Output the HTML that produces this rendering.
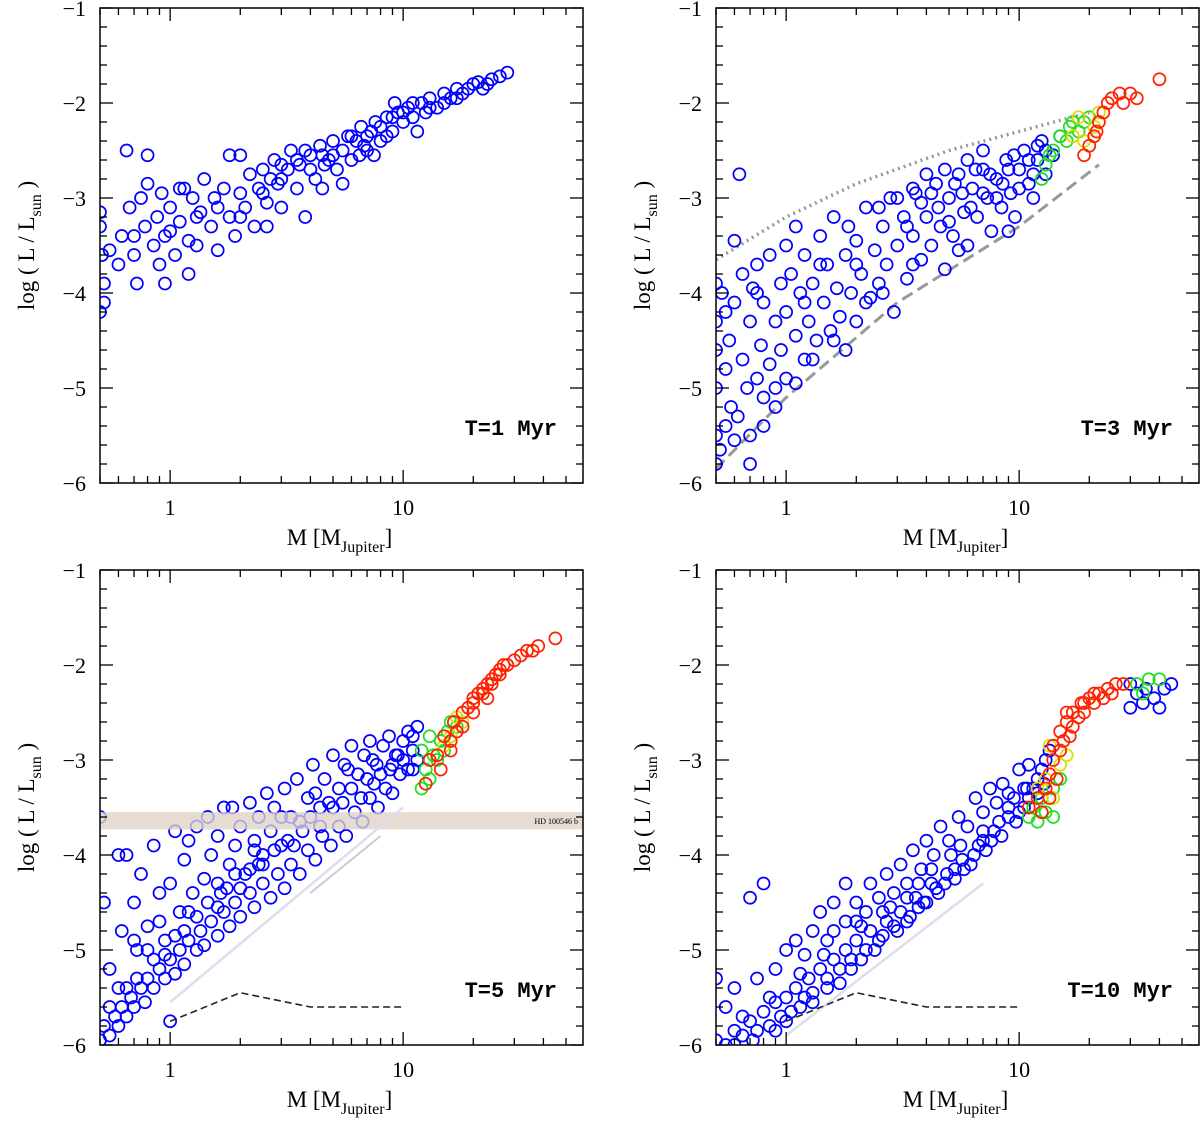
<!DOCTYPE html>
<html><head><meta charset="utf-8"><style>
body{margin:0;background:#fff;width:1200px;height:1120px;overflow:hidden}
svg text{font-family:"Liberation Serif",serif;fill:#000}
</style></head><body>
<svg id="chart" width="1200" height="1120" xmlns="http://www.w3.org/2000/svg"></svg>
<script>
// ---- data: [mass (MJup), log L/Lsun] ----
const p1Blue=[[0.5,-3.15],[0.5,-3.3],[0.51,-3.6],[0.52,-3.9],[0.5,-4.2],[0.52,-4.1],[0.55,-3.55],[0.6,-3.7],[0.62,-3.4],[0.65,-2.5],[0.67,-3.1],[0.7,-3.6],[0.72,-3.9],[0.75,-3.0],[0.78,-3.3],[0.8,-2.85],[0.8,-2.55],[0.85,-3.5],[0.88,-3.2],[0.9,-3.7],[0.92,-2.95],[0.95,-3.4],[1.0,-3.1],[1.05,-3.6],[1.1,-3.25],[1.15,-2.9],[1.2,-3.45],[1.25,-3.0],[1.3,-3.5],[1.35,-3.15],[1.4,-2.8],[1.5,-3.3],[1.55,-3.0],[1.6,-3.55],[1.7,-2.9],[1.8,-2.55],[1.8,-3.2],[1.9,-3.4],[2.0,-2.55],[2.0,-2.95],[2.1,-3.1],[2.2,-2.75],[2.3,-3.3],[2.4,-2.9],[2.5,-2.7],[2.6,-3.05],[2.8,-2.6],[2.9,-2.85],[3.0,-3.1],[3.2,-2.7],[3.3,-2.5],[3.5,-2.9],[3.6,-2.65],[3.8,-3.2],[4.0,-2.55],[4.2,-2.8],[4.4,-2.45],[4.6,-2.65],[5.0,-2.4],[5.2,-2.7],[5.5,-2.5],[5.8,-2.35],[6.0,-2.6],[6.3,-2.4],[6.6,-2.25],[7.0,-2.5],[7.3,-2.3],[7.6,-2.2],[8.0,-2.4],[8.5,-2.15],[9.0,-2.3],[9.5,-2.1],[10,-2.2],[10.5,-2.05],[11,-2.15],[12,-2.0],[12.5,-2.1],[13,-1.95],[14,-2.05],[15,-1.9],[16,-1.95],[17,-1.85],[18,-1.9],[20,-1.8],[22,-1.85],[24,-1.75],[26,-1.72],[28,-1.68],[5.5,-2.85],[1.2,-3.8],[0.95,-3.9],[2.6,-3.3],[4.8,-2.6],[6.8,-2.45],[9.2,-2.0],[3.0,-2.8],[4.5,-2.9],[7.5,-2.55],[11.5,-2.3],[1.1,-2.9],[0.7,-3.4],
[1.0,-3.35],[1.3,-3.2],[1.6,-3.1],[2.0,-3.2],[2.5,-2.95],[3.0,-2.65],[3.5,-2.6],[4.0,-2.7],[4.5,-2.55],[5,-2.55],[6,-2.35],[7,-2.35],[8,-2.25],[9,-2.15],[10,-2.1],[11,-2.0],[13,-2.05],[15,-2.0],[17,-1.95],[19,-1.85],[21,-1.78],[23,-1.8],[8.5,-2.35],[6.5,-2.55],[3.8,-2.5],[2.7,-2.8]];
const p2Blue=[[0.5,-5.8],[0.5,-5.5],[0.5,-5.0],[0.5,-4.6],[0.5,-4.3],[0.5,-3.9],[0.52,-5.65],[0.53,-4.0],[0.55,-5.4],[0.55,-4.8],[0.57,-4.5],[0.58,-5.2],[0.6,-3.45],[0.6,-4.1],[0.62,-5.3],[0.63,-2.75],[0.65,-4.7],[0.65,-3.8],[0.68,-5.0],[0.7,-4.3],[0.7,-5.8],[0.72,-3.95],[0.75,-4.9],[0.75,-3.7],[0.78,-4.55],[0.8,-5.1],[0.8,-4.1],[0.85,-3.6],[0.85,-4.75],[0.9,-4.3],[0.9,-5.0],[0.95,-3.9],[0.95,-4.6],[1.0,-3.5],[1.0,-4.2],[1.0,-4.9],[1.05,-3.8],[1.1,-4.45],[1.1,-3.3],[1.15,-4.0],[1.2,-4.7],[1.2,-3.6],[1.25,-4.3],[1.3,-3.9],[1.35,-4.5],[1.4,-3.4],[1.45,-4.1],[1.5,-3.7],[1.55,-4.4],[1.6,-3.2],[1.65,-3.95],[1.7,-4.25],[1.8,-3.6],[1.85,-3.3],[1.9,-4.0],[2.0,-3.45],[2.0,-4.3],[2.1,-3.8],[2.2,-3.1],[2.3,-4.05],[2.4,-3.55],[2.5,-3.9],[2.6,-3.3],[2.7,-3.7],[2.8,-3.0],[2.9,-4.2],[3.0,-3.5],[3.2,-3.2],[3.3,-3.85],[3.5,-3.4],[3.6,-2.95],[3.8,-3.65],[4.0,-3.2],[4.2,-3.5],[4.4,-2.85],[4.6,-3.3],[4.8,-3.75],[5.0,-3.0],[5.2,-3.4],[5.5,-2.75],[5.8,-3.15],[6.0,-3.5],[6.3,-2.9],[6.6,-3.2],[7.0,-2.7],[7.3,-3.0],[7.6,-3.35],[8.0,-2.8],[8.4,-3.1],[8.8,-2.6],[9.2,-2.95],[9.6,-3.2],[10,-2.7],[10.5,-2.5],[11,-2.85],[11.5,-3.0],[12,-2.6],[12.5,-2.4],[13,-2.75],[14,-2.55],[15,-2.35],[0.6,-5.55],[0.8,-5.4],[3.5,-2.9],[7,-2.5],[4,-2.75],[1.3,-4.7],[1.6,-4.5],[2.2,-4.1],[5.5,-3.55],[9,-3.35],[0.9,-5.2],[1.1,-4.95],
[3.0,-3.0],[3.3,-3.3],[3.8,-3.05],[4.2,-2.95],[4.5,-3.1],[5.0,-3.25],[5.3,-2.85],[5.7,-2.95],[6.2,-3.1],[6.5,-2.7],[7.0,-2.95],[7.5,-2.75],[8.0,-3.0],[8.5,-2.85],[9.0,-2.7],[9.5,-2.55],[10,-2.9],[11,-2.6],[11.5,-2.75],[12,-2.45],[13,-2.5],[6.0,-2.6],[4.8,-2.7],[2.5,-3.1],[2.0,-3.7],[1.4,-3.7],[1.8,-4.6],[1.2,-4.1],[2.6,-4.0],[3.5,-3.7],[0.7,-5.5],[0.75,-4.0],[0.55,-4.2]];
const p2Green=[[12.5,-2.8],[13,-2.65],[14,-2.5],[15,-2.35],[16,-2.4],[16.5,-2.25],[17,-2.2],[18,-2.3],[19,-2.2],[20,-2.15],[13.5,-2.55]];
const p2Yellow=[[17,-2.35],[18,-2.15],[19,-2.4],[21,-2.25],[22,-2.1]];
const p2Red=[[19,-2.55],[20,-2.45],[21,-2.35],[22,-2.2],[23,-2.1],[24,-2.0],[25,-1.95],[27,-1.9],[28,-2.0],[30,-1.9],[32,-1.95],[40,-1.75],[21.5,-2.3]];
const p3Blue=[[0.5,-5.95],[0.52,-5.8],[0.55,-5.9],[0.58,-5.7],[0.6,-5.8],[0.62,-5.6],[0.65,-5.7],[0.68,-5.5],[0.7,-5.6],[0.75,-5.4],[0.78,-5.55],[0.8,-5.3],[0.85,-5.4],[0.9,-5.2],[0.95,-5.3],[1.0,-5.1],[1.05,-5.25],[1.1,-5.0],[1.15,-5.15],[1.2,-4.9],[1.3,-5.0],[1.35,-4.8],[1.4,-4.95],[1.5,-4.7],[1.6,-4.85],[1.7,-4.6],[1.8,-4.75],[1.9,-4.5],[2.0,-4.65],[2.2,-4.4],[2.3,-4.55],[2.5,-4.3],[2.7,-4.45],[2.9,-4.2],[3.1,-4.35],[3.3,-4.1],[3.6,-4.2],[3.9,-3.95],[4.2,-4.05],[4.5,-3.8],[4.9,-3.9],[5.3,-3.7],[5.7,-3.8],[6.2,-3.55],[6.7,-3.65],[7.2,-3.4],[7.8,-3.5],[8.4,-3.3],[9.0,-3.35],[9.7,-3.15],[10.5,-3.1],[11,-2.9],[11.5,-3.0],[0.5,-3.6],[0.52,-4.5],[0.55,-5.2],[0.6,-4.0],[0.62,-4.8],[0.65,-4.0],[0.7,-4.5],[0.72,-5.0],[0.75,-4.2],[0.8,-4.75],[0.85,-3.9],[0.9,-4.4],[0.95,-4.9],[1.0,-4.3],[1.05,-3.75],[1.1,-4.6],[1.15,-4.05],[1.2,-3.85],[1.25,-4.4],[1.3,-3.7],[1.4,-4.25],[1.45,-3.6],[1.5,-4.0],[1.6,-3.8],[1.65,-4.4],[1.7,-3.5],[1.8,-4.1],[1.85,-3.5],[1.9,-3.9],[2.0,-3.7],[2.1,-4.2],[2.2,-3.45],[2.3,-3.85],[2.4,-3.6],[2.5,-4.0],[2.6,-3.35],[2.7,-3.75],[2.8,-3.5],[3.0,-3.9],[3.1,-3.3],[3.3,-3.6],[3.5,-3.2],[3.7,-3.75],[3.9,-3.4],[4.1,-3.05],[4.4,-3.5],[4.6,-3.2],[5.0,-2.95],[5.3,-3.3],[5.6,-3.05],[6.0,-2.85],[6.4,-3.15],[6.8,-2.95],[7.2,-2.8],[7.7,-3.05],[8.2,-2.85],[8.7,-2.75],[9.3,-2.95],[10,-2.8],[10.5,-2.7],[11,-2.75],[11.5,-2.65],[1.0,-5.75],[0.6,-5.4],[0.8,-5.0],[1.2,-4.6],[1.6,-4.3],[2.4,-4.1],[3.4,-3.9],[5.0,-3.5],[7.0,-3.2],[9.0,-3.05],
[0.55,-5.6],[0.65,-5.4],[0.72,-5.3],[0.85,-5.1],[0.95,-5.05],[1.05,-4.85],[1.15,-4.8],[1.3,-4.65],[1.45,-4.5],[1.6,-4.55],[1.75,-4.35],[2.0,-4.35],[2.2,-4.15],[2.5,-4.1],[2.8,-3.95],[3.2,-3.85],[3.6,-3.65],[4.0,-3.6],[4.4,-3.7],[4.8,-3.45],[5.5,-3.45],[6.0,-3.3],[6.6,-3.4],[7.5,-3.25],[8.0,-3.15],[8.8,-3.1],[9.5,-2.95],[10,-3.0],[11,-3.1],[4.2,-3.35],[5.8,-3.1],[7.4,-3.0],[3.0,-3.6],[2.3,-3.95],[1.9,-4.2],[0.9,-4.7],[0.7,-4.9]];
const p3Green=[[12,-3.3],[12.5,-3.1],[13,-3.2],[13.5,-2.95],[14,-3.0],[14.5,-2.8],[15,-2.9],[15.5,-2.7],[16,-2.6],[17,-2.65],[12,-2.9],[13,-2.75]];
const p3Yellow=[[15,-2.85],[16,-2.75],[17,-2.55],[18,-2.6]];
const p3Red=[[12.5,-3.25],[13,-3.0],[14,-2.95],[14.5,-3.1],[15,-2.75],[16,-2.8],[16.5,-2.6],[17,-2.7],[18,-2.5],[19,-2.45],[20,-2.35],[21,-2.3],[22,-2.25],[23,-2.2],[24,-2.15],[25,-2.1],[26,-2.05],[27,-2.0],[28,-2.0],[30,-1.95],[32,-1.9],[34,-1.85],[36,-1.85],[38,-1.8],[45,-1.72],[20,-2.4],[22,-2.3],[24,-2.2],[26,-2.1],[18,-2.65],[20,-2.5],[23,-2.35],[16,-2.9]];
const p4Blue=[[0.5,-5.95],[0.55,-6.0],[0.6,-5.85],[0.65,-5.9],[0.7,-5.75],[0.75,-5.85],[0.8,-5.65],[0.85,-5.8],[0.9,-5.55],[0.95,-5.7],[1.0,-5.5],[1.05,-5.65],[1.1,-5.4],[1.2,-5.5],[1.25,-5.3],[1.3,-5.45],[1.4,-5.2],[1.5,-5.3],[1.6,-5.1],[1.7,-5.2],[1.8,-5.0],[1.9,-5.1],[2.0,-4.9],[2.2,-5.0],[2.3,-4.8],[2.5,-4.9],[2.7,-4.7],[2.9,-4.75],[3.1,-4.6],[3.4,-4.65],[3.6,-4.45],[3.9,-4.5],[4.2,-4.3],[4.5,-4.4],[4.9,-4.2],[5.3,-4.25],[5.7,-4.05],[6.2,-4.1],[6.7,-3.9],[7.2,-3.95],[7.8,-3.75],[8.4,-3.8],[9.0,-3.6],[9.7,-3.65],[10.5,-3.5],[11,-3.4],[11.5,-3.3],[12,-3.2],[12.5,-3.1],[13,-3.0],[13.5,-2.9],[0.5,-5.3],[0.55,-5.6],[0.6,-5.4],[0.7,-4.45],[0.75,-5.3],[0.8,-4.3],[0.9,-5.2],[1.0,-5.0],[1.1,-4.9],[1.2,-5.05],[1.3,-4.8],[1.4,-4.6],[1.5,-4.9],[1.6,-4.5],[1.8,-4.3],[1.8,-4.7],[2.0,-4.5],[2.2,-4.6],[2.3,-4.3],[2.5,-4.45],[2.7,-4.2],[2.9,-4.4],[3.1,-4.1],[3.3,-4.3],[3.5,-3.95],[3.8,-4.15],[4.0,-3.85],[4.3,-4.0],[4.6,-3.7],[5.0,-3.85],[5.5,-3.6],[6.0,-3.7],[6.5,-3.4],[7.0,-3.55],[7.5,-3.3],[8.0,-3.45],[8.5,-3.25],[9.0,-3.35],[10,-3.1],[10.5,-3.3],[11,-3.05],[30,-2.2],[32,-2.3],[34,-2.4],[35,-2.25],[38,-2.35],[40,-2.45],[42,-2.25],[45,-2.2],[30,-2.45],[0.65,-5.7],[0.85,-5.5],[1.15,-5.25],[1.45,-5.05],[2.1,-4.75],[2.8,-4.55],[3.7,-4.3],[5.1,-4.0],[7.0,-3.75],
[0.6,-6.0],[0.72,-5.95],[0.9,-5.85],[1.0,-5.75],[1.15,-5.6],[1.3,-5.55],[1.5,-5.4],[1.7,-5.35],[1.9,-5.2],[2.1,-5.1],[2.4,-5.0],[2.6,-4.85],[3.0,-4.8],[3.3,-4.7],[3.7,-4.55],[4.0,-4.5],[4.4,-4.35],[4.8,-4.3],[5.3,-4.15],[5.8,-4.15],[6.4,-4.0],[7.0,-3.85],[7.6,-3.85],[8.2,-3.65],[9.0,-3.5],[9.5,-3.4],[10,-3.55],[10.8,-3.3],[12,-3.35],[12.8,-3.25],[1.6,-4.8],[2.0,-4.7],[2.6,-4.6],[3.3,-4.45],[4.2,-4.15],[5.6,-3.9]];
const p4Green=[[11,-3.6],[11.5,-3.5],[12,-3.65],[12.5,-3.4],[13,-3.55],[14,-3.3],[15,-3.2],[14,-3.6],[32,-2.2],[36,-2.15],[40,-2.15],[34,-2.3]];
const p4Yellow=[[12,-3.3],[13,-3.2],[14,-3.4],[15,-3.05],[16,-2.95],[13.5,-2.85]];
const p4Red=[[11,-3.5],[12,-3.4],[12.5,-3.55],[13,-3.3],[13.5,-3.15],[14,-3.0],[14.5,-3.2],[15,-2.9],[15,-2.7],[15.5,-2.8],[16,-2.6],[16.5,-2.75],[17,-2.5],[18,-2.55],[18.5,-2.4],[19,-2.5],[20,-2.35],[21,-2.4],[22,-2.3],[23,-2.35],[24,-2.25],[25,-2.3],[26,-2.2],[28,-2.2],[14,-2.85],[16,-2.5],[17,-2.65],[19,-2.4],[21,-2.3],[13.5,-3.4]];
const p2Upper=[[0.5,-3.65],[1,-3.2],[2,-2.85],[5,-2.5],[10,-2.3],[20,-2.1]];
const p2Lower=[[0.5,-5.85],[1,-5.1],[3,-4.1],[10,-3.3],[22,-2.65]];
const p3Guide=[[1,-5.55],[10,-3.5]];
const p3Guide2=[[4,-4.4],[8,-3.8]];
const p4Guide=[[1,-5.9],[7,-4.3]];
const dashTrack=[[1,-5.75],[2,-5.45],[4,-5.6],[10,-5.6]];
const hdBand=[-3.55,-3.73];
const xTickVals=[1,10];
const yTickVals=[-1,-2,-3,-4,-5,-6];
const panelLabels=["T=1 Myr","T=3 Myr","T=5 Myr","T=10 Myr"];

const NS="http://www.w3.org/2000/svg";
const svg=document.getElementById('chart');
function mk(tag,attrs,parent){const e=document.createElementNS(NS,tag);for(const k in attrs)e.setAttribute(k,attrs[k]);(parent||svg).appendChild(e);return e;}

function panel(idx,x0,y0,blue,green,yellow,red,extra){
  const W=483,H=475;
  const xs=m=>x0+(Math.log10(m)+0.30103)*233;
  const ys=l=>y0+(-1-l)*95;
  const g=mk('g',{});
  
  
  const cid='clip'+idx;
  const cp=mk('clipPath',{id:cid},g);mk('rect',{x:x0,y:y0,width:W,height:H},cp);
  const plot=mk('g',{'clip-path':'url(#'+cid+')'},g);
  if(extra)extra(plot,xs,ys);
  const draw=(arr,col,name)=>{arr.forEach(p=>{const c=mk('circle',{cx:xs(p[0]),cy:ys(p[1]),r:6,fill:'none',stroke:col,'stroke-width':1.7},plot);
    
    });};
  draw(blue,'#0000ff','blue');draw(green,'#22dd22','green');draw(yellow,'#dddd00','yellow');draw(red,'#ff2200','red');
  if(extra&&extra.after)extra.after(plot,xs,ys);
  const frame=mk('rect',{x:x0,y:y0,width:W,height:H,fill:'none',stroke:'#000','stroke-width':1.5},g);
  
  
  for(let d=0.5;d<=60;){const maj=xTickVals.includes(d);const x=xs(d);
    if(x>=x0&&x<=x0+W){const L=maj?13:7;mk('line',{x1:x,y1:y0+H,x2:x,y2:y0+H-L,stroke:'#000','stroke-width':1.3},g);mk('line',{x1:x,y1:y0,x2:x,y2:y0+L,stroke:'#000','stroke-width':1.3},g);}
    d=d<1?Math.round((d+0.1)*10)/10:d<10?d+1:d+10;}
  xTickVals.forEach(v=>{const t=mk('text',{x:xs(v),y:y0+H+32,'font-size':22,'text-anchor':'middle'},g);t.textContent=String(v);
    });
  for(let k=0;k<=25;k++){const l=-1-k*0.2;const y=ys(l);const maj=k%5===0;const L=maj?13:7;
    mk('line',{x1:x0,y1:y,x2:x0+L,y2:y,stroke:'#000','stroke-width':1.3},g);mk('line',{x1:x0+W,y1:y,x2:x0+W-L,y2:y,stroke:'#000','stroke-width':1.3},g);}
  yTickVals.forEach(v=>{const t=mk('text',{x:x0-14,y:ys(v)+8,'font-size':22,'text-anchor':'end'},g);t.textContent='\u2212'+Math.abs(v);
    });
  const xt=mk('text',{x:x0+W/2-2,y:y0+H+62,'font-size':23,'text-anchor':'middle'},g);
  xt.innerHTML='M [M<tspan font-size="16" dy="7">Jupiter</tspan><tspan dy="-7">]</tspan>';
  
  const yt=mk('text',{transform:`translate(${x0-66},${y0+H/2}) rotate(-90)`,'font-size':23,'text-anchor':'middle'},g);
  yt.innerHTML='log ( L / L<tspan font-size="16" dy="7">sun</tspan><tspan dy="-7"> )</tspan>';
  
  const pl=mk('text',{x:x0+W-26,y:y0+H-48,'font-size':22,'font-weight':'bold','text-anchor':'end',style:'font-family:"Liberation Mono",monospace'},g);
  pl.textContent=panelLabels[idx];
  
}
const path=(pts,xs,ys)=>pts.map((p,i)=>(i?'L':'M')+xs(p[0])+','+ys(p[1])).join('');

panel(0,100,8,p1Blue,[],[],[]);
const e2=(pl,xs,ys)=>{
  const a=mk('path',{d:path(p2Upper,xs,ys),fill:'none',stroke:'#999','stroke-width':3.5,'stroke-dasharray':'2 4'},pl);
  
  const b=mk('path',{d:path(p2Lower,xs,ys),fill:'none',stroke:'#999','stroke-width':3,'stroke-dasharray':'12 6'},pl);
  
};
panel(1,716,8,p2Blue,p2Green,p2Yellow,p2Red,e2);
const e3=(pl,xs,ys)=>{
  const r=mk('rect',{x:100,y:ys(hdBand[0]),width:483,height:ys(hdBand[1])-ys(hdBand[0]),fill:'#e5dcd2'},pl);
  
};
e3.after=(pl,xs,ys)=>{
  const r=mk('rect',{x:100,y:ys(hdBand[0]),width:483,height:ys(hdBand[1])-ys(hdBand[0]),fill:'#e5dcd2','fill-opacity':0.75},pl);
  
  const t=mk('text',{x:578,y:ys((hdBand[0]+hdBand[1])/2)+3,'font-size':8,'text-anchor':'end'},pl);t.textContent='HD 100546 b';
  
  mk('path',{d:path(p3Guide,xs,ys),fill:'none',stroke:'#dde','stroke-width':2.5},pl);
  mk('path',{d:path(p3Guide2,xs,ys),fill:'none',stroke:'#ccc','stroke-width':2},pl);
  const d=mk('path',{d:path(dashTrack,xs,ys),fill:'none',stroke:'#222','stroke-width':1.6,'stroke-dasharray':'7 4'},pl);
  
};
panel(2,100,570,p3Blue,p3Green,p3Yellow,p3Red,e3);
const e4=()=>{};
e4.after=(pl,xs,ys)=>{
  mk('path',{d:path(p4Guide,xs,ys),fill:'none',stroke:'#dde','stroke-width':2.5},pl);
  const d=mk('path',{d:path(dashTrack,xs,ys),fill:'none',stroke:'#222','stroke-width':1.6,'stroke-dasharray':'7 4'},pl);
  
};
panel(3,716,570,p4Blue,p4Green,p4Yellow,p4Red,e4);
</script>
</body></html>
